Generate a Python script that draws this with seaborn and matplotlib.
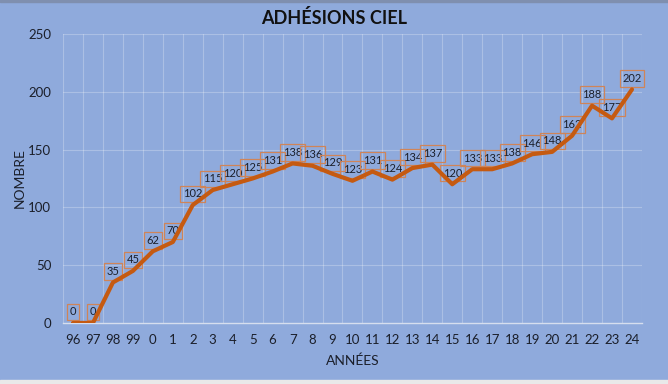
import numpy as np
import matplotlib
matplotlib.use('Agg')
import matplotlib.pyplot as plt
import seaborn as sns
from matplotlib.patches import Rectangle

# Data
years = ['96', '97', '98', '99', '0', '1', '2', '3', '4', '5', '6', '7', '8',
         '9', '10', '11', '12', '13', '14', '15', '16', '17', '18', '19',
         '20', '21', '22', '23', '24']
members = [0, 0, 35, 45, 62, 70, 102, 115, 120, 125, 131, 138, 136, 129,
           123, 131, 124, 134, 137, 120, 133, 133, 138, 146, 148, 162, 188,
           177, 202]

bg = '#8FAADC'
line_color = '#C55A11'
text_color = '#1B1F2A'

sns.set_style('white')
plt.rcParams['font.family'] = ['Lato', 'DejaVu Sans']

fig = plt.figure(figsize=(6.68, 3.84), dpi=100, facecolor=bg)
ax = fig.add_axes([0.0943, 0.159, 0.8667, 0.7525])
ax.set_facecolor(bg)

pos = np.arange(len(years))
sns.lineplot(x=pos, y=members, ax=ax, color=line_color, linewidth=3.0,
             zorder=4)

# data labels (drawn under the line, like the original)
for x, v in zip(pos, members):
    ax.annotate(str(v), (x, v), xytext=(0, 4), textcoords='offset points',
                ha='center', va='bottom', fontsize=8, color=text_color,
                zorder=3,
                bbox=dict(boxstyle='square,pad=0.25', fc='none',
                          ec='#CF8458', lw=0.9))

ax.set_xlim(-0.5, len(years) - 0.5)
ax.set_ylim(0, 250)
ax.set_yticks(range(0, 251, 50))
ax.set_xticks(pos)
ax.set_xticklabels(years)

# grid: horizontal at ticks, vertical between categories
for y in range(50, 251, 50):
    ax.axhline(y, color='white', alpha=0.25, lw=0.8, zorder=0)
for x in np.arange(-0.5, len(years), 1.0):
    ax.axvline(x, color='white', alpha=0.25, lw=0.8, zorder=0)

for s in ['top', 'right', 'left']:
    ax.spines[s].set_visible(False)
ax.spines['bottom'].set_color('#D6DEEE')
ax.spines['bottom'].set_linewidth(1.0)

ax.tick_params(axis='both', length=0, labelsize=9.5, colors=text_color)
ax.tick_params(axis='x', pad=8)
ax.tick_params(axis='y', pad=8.5)

ax.set_xlabel('ANNÉES', fontsize=10, color=text_color, labelpad=6)
ax.set_ylabel('NOMBRE', fontsize=10, color=text_color, labelpad=2)

fig.text(0.5, 0.953, 'ADHÉSIONS CIEL', ha='center', va='center',
         fontsize=13, fontweight='bold', color='#111111')

# frame strips
fig.add_artist(Rectangle((0, 0), 1, 4 / 384, transform=fig.transFigure,
                         color='#E9E9E9', zorder=5))
fig.add_artist(Rectangle((0, 1 - 2 / 384), 1, 2 / 384,
                         transform=fig.transFigure, color='#7F8FAF', zorder=5))

fig.savefig('out.png', dpi=100, facecolor=bg)
